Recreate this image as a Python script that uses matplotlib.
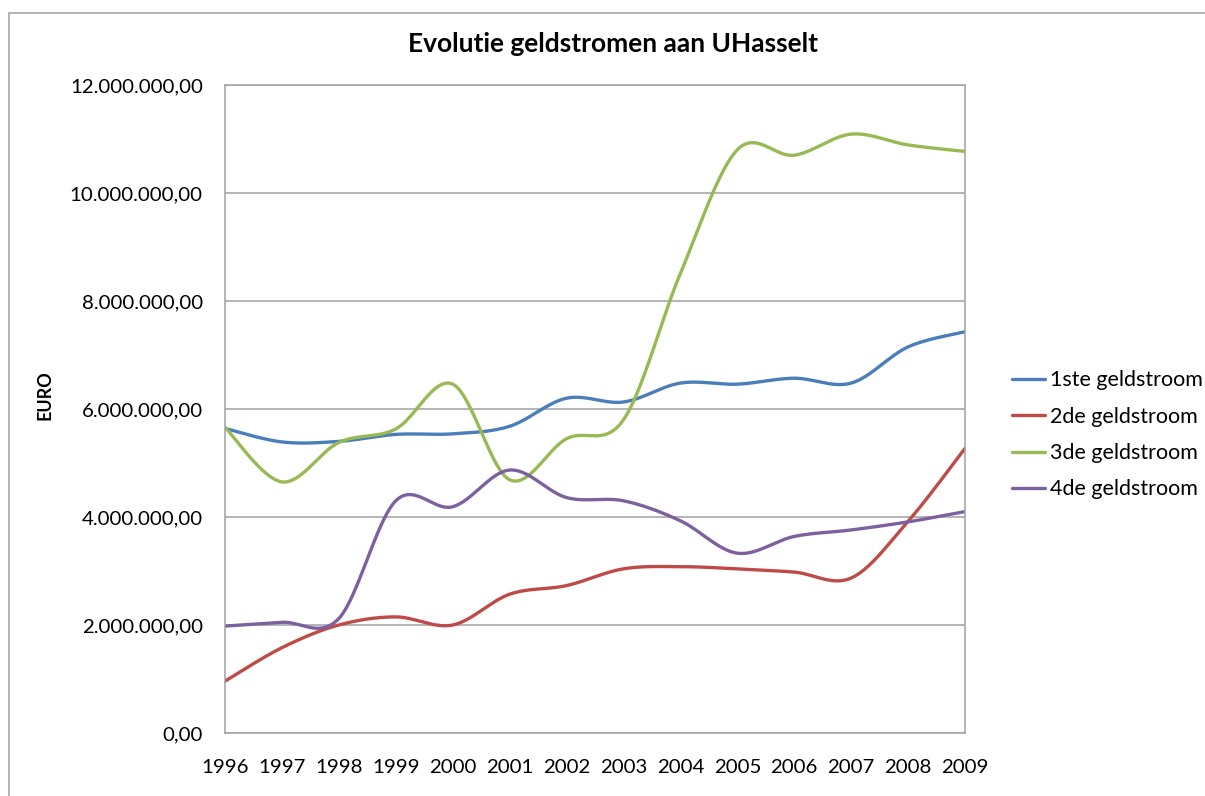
import numpy as np
import matplotlib
matplotlib.use("Agg")
import matplotlib.pyplot as plt
from matplotlib.patches import Rectangle

plt.rcParams['font.family'] = ['Lato', 'DejaVu Sans']

years = [1996, 1997, 1998, 1999, 2000, 2001, 2002, 2003, 2004, 2005, 2006, 2007, 2008, 2009]
geld1 = [5.64, 5.39, 5.40, 5.53, 5.54, 5.68, 6.20, 6.13, 6.48, 6.46, 6.57, 6.48, 7.15, 7.43]
geld2 = [0.96, 1.58, 2.00, 2.15, 2.00, 2.57, 2.73, 3.04, 3.08, 3.04, 2.98, 2.87, 3.92, 5.27]
geld3 = [5.66, 4.65, 5.38, 5.63, 6.46, 4.69, 5.45, 5.80, 8.51, 10.80, 10.70, 11.09, 10.89, 10.77]
geld4 = [1.98, 2.05, 2.12, 4.30, 4.19, 4.87, 4.36, 4.30, 3.93, 3.33, 3.64, 3.76, 3.91, 4.10]
labels = ['1ste geldstroom', '2de geldstroom', '3de geldstroom', '4de geldstroom']
colors = ['#4A7EBB', '#BE4B48', '#98B954', '#7D60A0']
series = [geld1, geld2, geld3, geld4]
yticks = [0, 2, 4, 6, 8, 10, 12]
ytick_labels = ['0,00', '2.000.000,00', '4.000.000,00', '6.000.000,00',
                '8.000.000,00', '10.000.000,00', '12.000.000,00']


def smooth(xs, ys, n=40):
    """Excel-like smoothed line (Catmull-Rom Bezier through the data points)."""
    xs = np.asarray(xs, float)
    ys = np.asarray(ys, float) * 1e6
    px = np.concatenate([[xs[0]], xs, [xs[-1]]])
    py = np.concatenate([[ys[0]], ys, [ys[-1]]])
    ox, oy = [], []
    t = np.linspace(0, 1, n)
    for i in range(1, len(px) - 2):
        p0 = np.array([px[i], py[i]])
        p3 = np.array([px[i + 1], py[i + 1]])
        p1 = p0 + (np.array([px[i + 1], py[i + 1]]) - np.array([px[i - 1], py[i - 1]])) / 6
        p2 = p3 - (np.array([px[i + 2], py[i + 2]]) - np.array([px[i], py[i]])) / 6
        b = ((1 - t) ** 3)[:, None] * p0 + (3 * (1 - t) ** 2 * t)[:, None] * p1 \
            + (3 * (1 - t) * t ** 2)[:, None] * p2 + (t ** 3)[:, None] * p3
        ox.extend(b[:, 0]); oy.extend(b[:, 1])
    return ox, oy


fig = plt.figure(figsize=(12.05, 7.96), dpi=100)
fig.patches.append(Rectangle((9 / 1205, -0.1), 1.2, 1 - 13 / 796 + 0.1, transform=fig.transFigure,
                             fill=False, edgecolor='#a6a6a6', linewidth=1.2))
ax = fig.add_axes([225 / 1205, 1 - 733 / 796, 740 / 1205, 648 / 796])

for s, lab, c in zip(series, labels, colors):
    sx, sy = smooth(years, s)
    ax.plot(sx, sy, color=c, linewidth=2.4, label=lab, solid_capstyle='round')

ax.set_xlim(years[0], years[-1])
ax.set_ylim(0, 12e6)
ax.set_yticks([v * 1e6 for v in yticks])
ax.set_yticklabels(ytick_labels)
ax.set_xticks(years)
ax.set_xticklabels([str(y) for y in years])
ax.tick_params(axis='both', length=0, labelsize=14.7, colors='#000000')
ax.tick_params(axis='y', pad=16)
ax.tick_params(axis='x', pad=19)
ax.grid(axis='y', color='#a0a0a0', linewidth=1.1)
ax.set_axisbelow(True)
for sp in ax.spines.values():
    sp.set_color('#a0a0a0')
    sp.set_linewidth(1.1)

fig.text(613 / 1205, 1 - 44 / 796, 'Evolutie geldstromen aan UHasselt', ha='center', va='center',
         fontsize=19, fontweight='bold')
fig.text(45 / 1205, 1 - 395 / 796, 'EURO', rotation=90, ha='center', va='center',
         fontsize=13, fontweight='bold')

fig.legend(loc='upper left', bbox_to_anchor=(993 / 1205, 1 - 351 / 796), frameon=False,
           fontsize=15.5, handlelength=1.5, handletextpad=0.25, labelspacing=0.76)

fig.savefig('out.png', dpi=100, facecolor='white')
